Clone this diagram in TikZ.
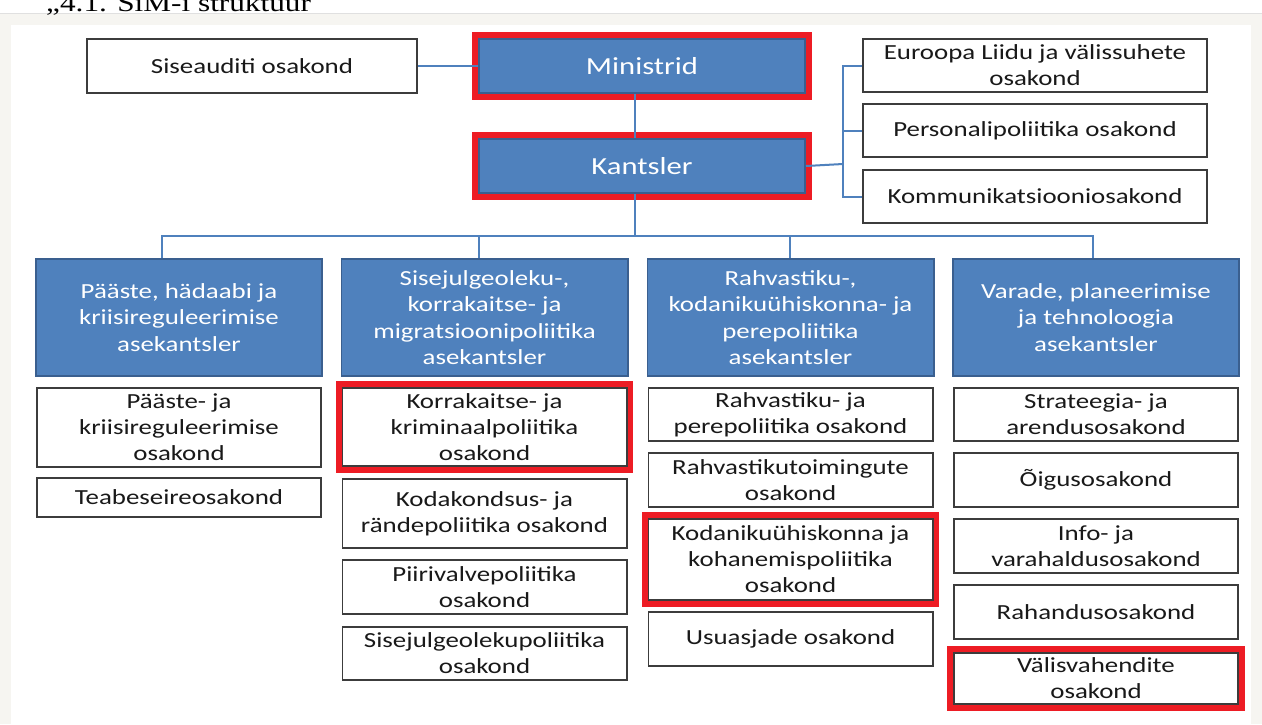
\documentclass[tikz,border=0pt]{standalone}
\usepackage{fontspec}
\setmainfont{Carlito}[FakeStretch=1.25]
\newfontfamily\capfont{Liberation Serif}[FakeStretch=1.25]
\usetikzlibrary{positioning}
\definecolor{orgblue}{HTML}{4F81BD}
\definecolor{orgedge}{HTML}{3A5F8F}
\definecolor{hlred}{HTML}{ED1C24}
\definecolor{pagebg}{HTML}{F6F5F1}
\definecolor{boxedge}{HTML}{3C3C3C}

\begin{document}
\begin{tikzpicture}[x=1pt,y=-1pt,node distance=10pt,every node/.append style={align=center},
  unit/.style={rectangle, draw=orgedge, fill=orgblue, line width=1.8pt, text=white, inner sep=2pt,
    font=\fontsize{21.5}{26.5}\selectfont, minimum width=286.2pt, minimum height=117.2pt},
  head/.style={unit, minimum width=326.2pt, minimum height=54.2pt, font=\fontsize{24.5}{29}\selectfont},
  dept/.style={rectangle, draw=boxedge, fill=white, line width=1.6pt, text=black!90, inner sep=2pt,
    font=\fontsize{21.5}{26}\selectfont, minimum width=284.4pt, minimum height=54.4pt},
  hl/.style={preaction={draw=hlred, line width=13pt}},
  conn/.style={draw=orgblue, line width=2pt}]
    \useasboundingbox (0,0) rectangle (1262,724);
    % page frame
    \fill[pagebg] (0,13) rectangle (1262,724);
    \fill[white] (11,25) rectangle (1251,724);
    \draw[black!12, line width=1pt] (0,13) -- (1262,13);
    \node[font=\capfont\fontsize{25}{30}\selectfont, anchor=base west, inner sep=0pt] (CAP) at (46,11) {„4.1. SiM-i struktuur};
    % top
    \node [head, hl] (MIN) at (642,66) {Ministrid};
    \node [head, hl] (KAN) at (642,166) {Kantsler};
    \node [dept, minimum width=330.4pt] (SIA) at (252,66) {Siseauditi osakond};
    \node [dept, minimum width=344.4pt, minimum height=53.4pt] (EL) at (1035,65.5) {Euroopa Liidu ja välissuhete\\osakond};
    \node [dept, minimum width=344.4pt, minimum height=53.4pt] (PER) at (1035,130.5) {Personalipoliitika osakond};
    \node [dept, minimum width=344.4pt, minimum height=53.4pt] (KOM) at (1035,196.5) {Kommunikatsiooniosakond};
    % asekantslerid
    \node [unit] (PH) at (179,317.5) {Pääste, hädaabi ja\\kriisireguleerimise\\asekantsler};
    \node [unit] (SJ) at (484.5,317.5) {Sisejulgeoleku-,\\korrakaitse- ja\\migratsioonipoliitika\\asekantsler};
    \node [unit] (RK) at (790.5,317.5) {Rahvastiku-,\\kodanikuühiskonna- ja\\perepoliitika\\asekantsler};
    \node [unit] (VA) at (1096,317.5) {Varade, planeerimise\\ja tehnoloogia\\asekantsler};
    % osakonnad
    \node [dept, below=of PH, minimum height=79.4pt] (PK) {Pääste- ja\\kriisireguleerimise\\osakond};
    \node [dept, below=9pt of PK, minimum height=39.4pt] (TEA) {Teabeseireosakond};
    \node [dept, hl, below=of SJ, minimum height=78.4pt] (KOR) {Korrakaitse- ja\\kriminaalpoliitika\\osakond};
    \node [dept, below=11pt of KOR, minimum height=69.4pt] (KOD) {Kodakondsus- ja\\rändepoliitika osakond};
    \node [dept, below=of KOD] (PII) {Piirivalvepoliitika\\osakond};
    \node [dept, below=11pt of PII, minimum height=53.4pt] (SIS) {Sisejulgeolekupoliitika\\osakond};
    \node [dept, below=of RK, minimum height=53.4pt] (RPO) {Rahvastiku- ja\\perepoliitika osakond};
    \node [dept, below=of RPO] (RTO) {Rahvastikutoimingute\\osakond};
    \node [dept, hl, below=of RTO, minimum height=81.4pt] (KYH) {Kodanikuühiskonna ja\\kohanemispoliitika\\osakond};
    \node [dept, below=of KYH] (USU) {Usuasjade osakond};
    \node [dept, below=of VA, minimum height=53.4pt] (STR) {Strateegia- ja\\arendusosakond};
    \node [dept, below=of STR] (OIG) {Õigusosakond};
    \node [dept, below=of OIG] (INF) {Info- ja\\varahaldusosakond};
    \node [dept, below=of INF] (RAH) {Rahandusosakond};
    \node [dept, hl, below=12pt of RAH, minimum height=51.4pt] (VAL) {Välisvahendite\\osakond};
    % connectors
    \coordinate (bus) at (635,236);
    \coordinate (brk) at (843,164);
    \path[conn] (SIA) edge (MIN);
    \draw[conn] ([xshift=-7pt]MIN.south) -- ([xshift=-7pt]KAN.north);
    \draw[conn] ([xshift=-7pt]KAN.south) -- (bus);
    \draw[conn] (KAN.east) -- (brk);
    \draw[conn] (EL.west) -| (brk);
    \draw[conn] (PER.west) -| (brk);
    \draw[conn] (KOM.west) -| (brk);
    \draw[conn] ([xshift=-17pt]PH.north) |- (bus);
    \draw[conn] ([xshift=-6pt]SJ.north) |- (bus);
    \draw[conn] ([xshift=-1pt]RK.north) |- (bus);
    \draw[conn] ([xshift=-3pt]VA.north) |- (bus);
\end{tikzpicture}
\end{document}
